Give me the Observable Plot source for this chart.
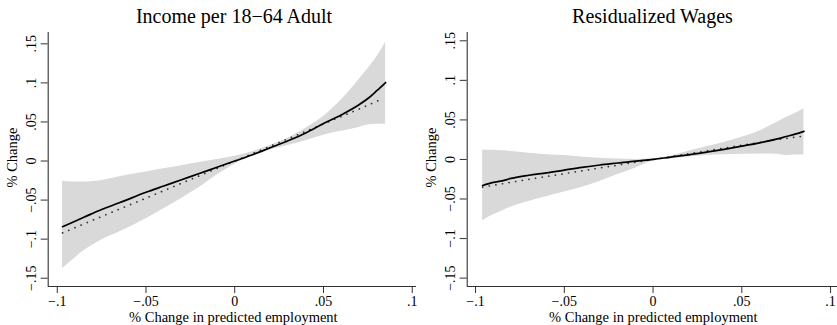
<!DOCTYPE html>
<html><head><meta charset="utf-8">
<script src="https://cdn.jsdelivr.net/npm/d3@7"></script>
<script src="https://cdn.jsdelivr.net/npm/@observablehq/plot@0.6"></script>
<style>
body{margin:0;background:#fff;font-family:"Liberation Serif","Times New Roman",serif;}
#wrap{display:flex;width:837px;height:325px;overflow:hidden;}
.panel{position:relative;height:325px;}
.title{height:26px;position:relative;}
.title span{position:absolute;top:6px;font-size:20px;line-height:20px;white-space:nowrap;transform:translateX(-50%);color:#000;}
.panel svg{display:block;overflow:visible;}
.panel svg, .panel svg text, .panel svg g{font-family:"Liberation Serif","Times New Roman",serif !important;}
</style></head><body><div id="wrap"></div>
<script>
const xTicks = [-0.1, -0.05, 0, 0.05, 0.1];
const yTicks = [-0.15, -0.1, -0.05, 0, 0.05, 0.1, 0.15];
const titles = ["Income per 18\u221264 Adult", "Residualized Wages"];
const xLabel = "% Change in predicted employment";
const yLabel = "% Change";

// Income per 18-64 Adult
const incomeX   = [-0.097, -0.09, -0.085, -0.075, -0.065, -0.05, -0.04, -0.03, -0.02, -0.01, 0, 0.01, 0.02, 0.03, 0.04, 0.05, 0.06, 0.07, 0.075, 0.08, 0.085];
const incomeFit = [-0.084, -0.077, -0.072, -0.062, -0.0535, -0.040, -0.032, -0.024, -0.016, -0.008, 0, 0.008, 0.017, 0.026, 0.036, 0.048, 0.059, 0.072, 0.080, 0.090, 0.1005];
const incomeHi  = [-0.026, -0.027, -0.027, -0.025, -0.020, -0.014, -0.010, -0.006, -0.002, 0.002, 0.006, 0.012, 0.020, 0.029, 0.042, 0.057, 0.078, 0.104, 0.118, 0.133, 0.152];
const incomeLo  = [-0.138, -0.124, -0.115, -0.101, -0.091, -0.074, -0.061, -0.048, -0.034, -0.018, -0.004, 0.006, 0.014, 0.020, 0.026, 0.033, 0.038, 0.043, 0.046, 0.047, 0.047];
const incomeLinX = [-0.097, -0.075, -0.05, -0.025, 0, 0.025, 0.05, 0.07, 0.083];
const incomeLin  = [-0.092, -0.071, -0.0475, -0.0237, 0, 0.0237, 0.0475, 0.0665, 0.0795];

// Residualized Wages
const wagesX   = [-0.096, -0.09, -0.085, -0.08, -0.07, -0.06, -0.05, -0.04, -0.03, -0.02, -0.01, 0, 0.01, 0.02, 0.03, 0.04, 0.05, 0.06, 0.07, 0.075, 0.08, 0.085];
const wagesFit = [-0.033, -0.029, -0.027, -0.024, -0.020, -0.017, -0.0135, -0.010, -0.007, -0.0045, -0.002, 0, 0.003, 0.0058, 0.0092, 0.0128, 0.0168, 0.021, 0.026, 0.029, 0.032, 0.0355];
const wagesHi  = [0.012, 0.0115, 0.011, 0.010, 0.008, 0.006, 0.005, 0.003, 0.0015, 0.0005, 0.0, 0.001, 0.0045, 0.0105, 0.016, 0.0215, 0.028, 0.036, 0.047, 0.053, 0.058, 0.064];
const wagesLo  = [-0.0775, -0.070, -0.065, -0.060, -0.053, -0.047, -0.041, -0.035, -0.028, -0.019, -0.011, -0.002, 0.001, 0.003, 0.005, 0.006, 0.0065, 0.007, 0.0065, 0.005, 0.0055, 0.006];
const wagesLinX = [-0.096, -0.075, -0.05, -0.025, 0, 0.025, 0.05, 0.07, 0.083];
const wagesLin  = [-0.035, -0.027, -0.018, -0.009, 0, 0.009, 0.018, 0.025, 0.029];

const serif = "'Liberation Serif', 'Times New Roman', serif";

function fmt(d) {
  if (d === 0) return "0";
  const s = String(Math.abs(d)).replace(/^0/, "");
  return (d < 0 ? "\u2212" : "") + s;
}

function panel(o) {
  const band = o.xs.map((x, i) => ({x, lo: o.lo[i], hi: o.hi[i], fit: o.fit[i]}));
  const linear = o.linX.map((x, i) => ({x, y: o.lin[i]}));
  const div = document.createElement("div");
  div.className = "panel";
  div.style.width = o.width + "px";
  const t = document.createElement("div");
  t.className = "title";
  const sp = document.createElement("span");
  sp.textContent = o.title;
  sp.style.left = o.titleX + "px";
  t.appendChild(sp);
  div.appendChild(t);
  const axisColor = "#333";
  const svg = Plot.plot({
    width: o.width, height: 299,
    marginTop: 6, marginBottom: 39, marginLeft: o.marginLeft, marginRight: o.marginRight,
    style: {"font-family": serif, "font-size": "14px", color: "#000", background: "#fff", overflow: "visible"},
    x: {domain: o.xDomain},
    y: {domain: o.yDomain},
    marks: [
      Plot.areaY(band, {x: "x", y1: "lo", y2: "hi", fill: "#d9d9d9", curve: "monotone-x"}),
      Plot.lineY(linear, {x: "x", y: "y", stroke: "#333", strokeWidth: 1.7, strokeDasharray: "0.1,6.6", strokeLinecap: "round", curve: "monotone-x"}),
      Plot.lineY(band, {x: "x", y: "fit", stroke: "#000", strokeWidth: 1.7, curve: "monotone-x"}),
      Plot.ruleX([o.xDomain[0]], {stroke: axisColor, strokeWidth: 1.1}),
      Plot.ruleY([o.yDomain[0]], {stroke: axisColor, strokeWidth: 1.1}),
      Plot.axisX(xTicks, {tickSize: 7, tickPadding: 3, tickFormat: fmt, label: null, stroke: axisColor, fill: "#000", fontSize: 14, fontFamily: serif}),
      Plot.axisY(yTicks, {tickSize: 7, tickPadding: 5, tickRotate: -90, textAnchor: "middle", lineAnchor: "bottom", tickFormat: fmt, label: null, stroke: axisColor, fill: "#000", fontSize: 14, fontFamily: serif}),
      Plot.text([xLabel], {text: d => d, frameAnchor: "bottom", dy: 35, dx: 1, lineAnchor: "bottom", fontSize: 14.5, fontFamily: serif, fill: "#000"}),
      Plot.text([yLabel], {text: d => d, frameAnchor: "left", rotate: -90, dx: -31, dy: -2, lineAnchor: "bottom", textAnchor: "middle", fontSize: 14.5, fontFamily: serif, fill: "#000"})
    ]
  });
  div.appendChild(svg);
  return div;
}

const wrap = document.getElementById("wrap");
wrap.appendChild(panel({
  title: titles[0], xs: incomeX, fit: incomeFit, lo: incomeLo, hi: incomeHi, linX: incomeLinX, lin: incomeLin,
  width: 420, marginLeft: 47.7, marginRight: 4, xDomain: [-0.1051, 0.1024], yDomain: [-0.1606, 0.1645], titleX: 234
}));
wrap.appendChild(panel({
  title: titles[1], xs: wagesX, fit: wagesFit, lo: wagesLo, hi: wagesHi, linX: wagesLinX, lin: wagesLin,
  width: 417, marginLeft: 46.7, marginRight: 0, xDomain: [-0.1047, 0.1039], yDomain: [-0.1606, 0.1605], titleX: 232.5
}));
</script>
</body></html>
